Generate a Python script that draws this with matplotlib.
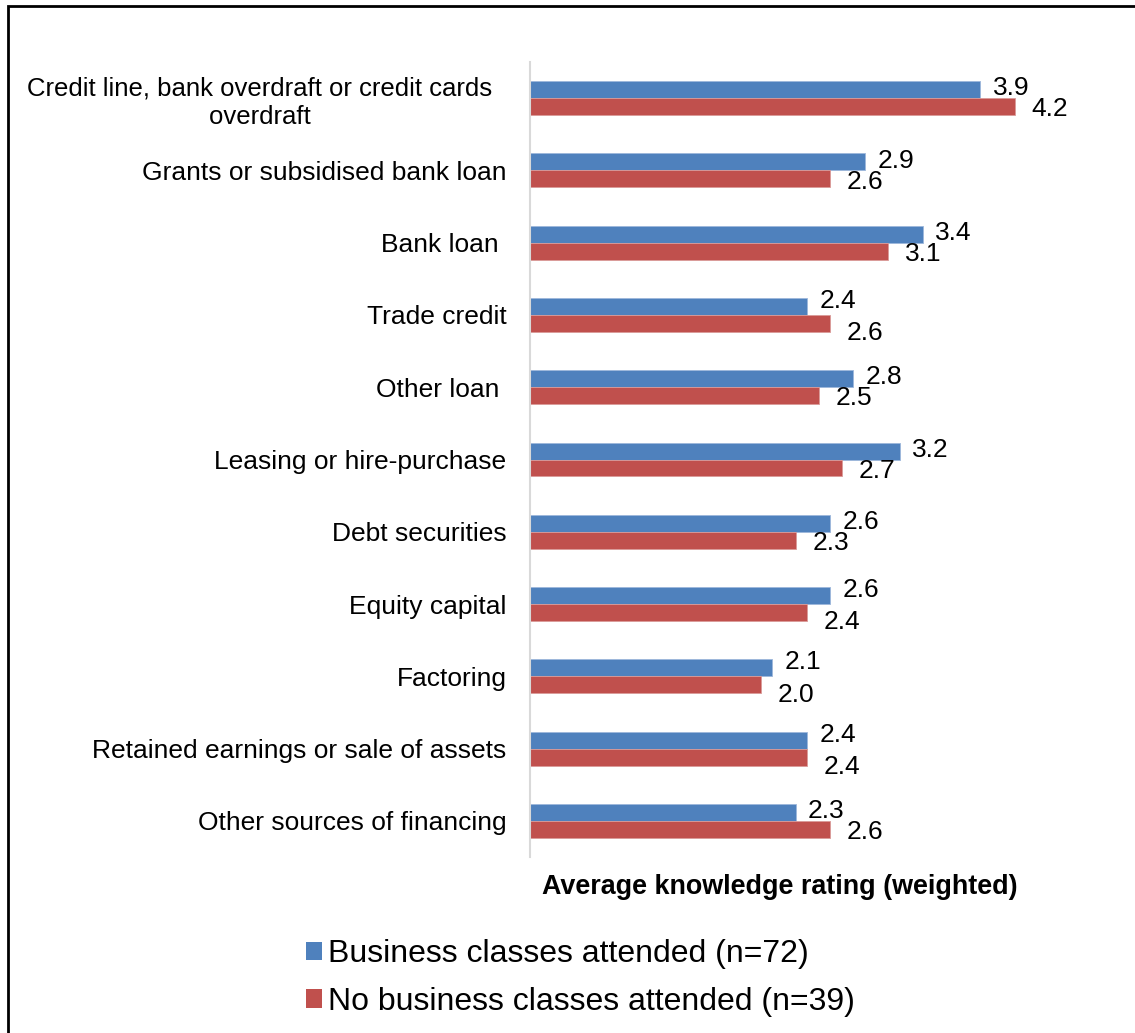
import matplotlib
matplotlib.use('Agg')
import matplotlib.pyplot as plt
from matplotlib.patches import Patch, Rectangle
import numpy as np

plt.rcParams['font.family'] = ['Liberation Sans', 'DejaVu Sans']

categories = [
    'Credit line, bank overdraft or credit cards  \noverdraft  ',
    'Grants or subsidised bank loan',
    'Bank loan ',
    'Trade credit',
    'Other loan ',
    'Leasing or hire-purchase',
    'Debt securities',
    'Equity capital',
    'Factoring',
    'Retained earnings or sale of assets',
    'Other sources of financing',
]
attended = [3.9, 2.9, 3.4, 2.4, 2.8, 3.2, 2.6, 2.6, 2.1, 2.4, 2.3]
not_attended = [4.2, 2.6, 3.1, 2.6, 2.5, 2.7, 2.3, 2.4, 2.0, 2.4, 2.6]
series_names = ['Business classes attended (n=72)',
                'No business classes attended (n=39)']
blue = '#4F81BD'
red = '#C0504D'

fig = plt.figure(figsize=(11.35, 10.33), dpi=100)
ax = fig.add_axes([530 / 1135, 1 - 857 / 1033, 500 / 1135, 795 / 1033])

y = np.arange(len(categories))
h = 0.235
ax.barh(y - h / 2, attended, height=h, color=blue, edgecolor='#9DB7DB', linewidth=0.6)
ax.barh(y + h / 2, not_attended, height=h, color=red, edgecolor='#DA9A98', linewidth=0.6)

# value labels; pull the pair apart vertically when they would collide
for yi, a, b in zip(y, attended, not_attended):
    close = abs(a - b) < 0.25
    dy_a, dy_b = (4, -7) if close else (1, -2)
    ax.annotate(f'{a:.1f}', (a, yi - h / 2), xytext=(9, dy_a), textcoords='offset points',
                ha='left', va='center', fontsize=19)
    ax.annotate(f'{b:.1f}', (b, yi + h / 2), xytext=(12, dy_b), textcoords='offset points',
                ha='left', va='center', fontsize=19)

ax.set_xlim(0, 4.33)
ax.set_ylim(len(categories) - 0.5, -0.5)
ax.set_yticks(y)
ax.set_yticklabels(categories, fontsize=19, multialignment='center', linespacing=1.25)
ax.get_yticklabels()[0].set_fontsize(18.5)
ax.tick_params(axis='y', length=0, pad=17)
ax.set_xticks([])
for s in ['top', 'right', 'bottom']:
    ax.spines[s].set_visible(False)
ax.spines['left'].set_color('#D9D9D9')
ax.spines['left'].set_linewidth(1.5)
ax.set_xlabel('Average knowledge rating (weighted)', fontsize=19.4, fontweight='bold', labelpad=12)

handles = [Patch(facecolor=blue), Patch(facecolor=red)]
fig.legend(handles, series_names, loc='center left',
           bbox_to_anchor=(290 / 1135, 1 - 978 / 1033), frameon=False,
           fontsize=23, handlelength=0.5, handleheight=0.5, handletextpad=0.2,
           labelspacing=0.55, borderpad=0)

fig.add_artist(Rectangle((8 / 1135, -0.05), 1.2, 1.05 - 6 / 1033, transform=fig.transFigure,
                         fill=False, edgecolor='black', linewidth=2))

fig.savefig('out.png', dpi=100)
